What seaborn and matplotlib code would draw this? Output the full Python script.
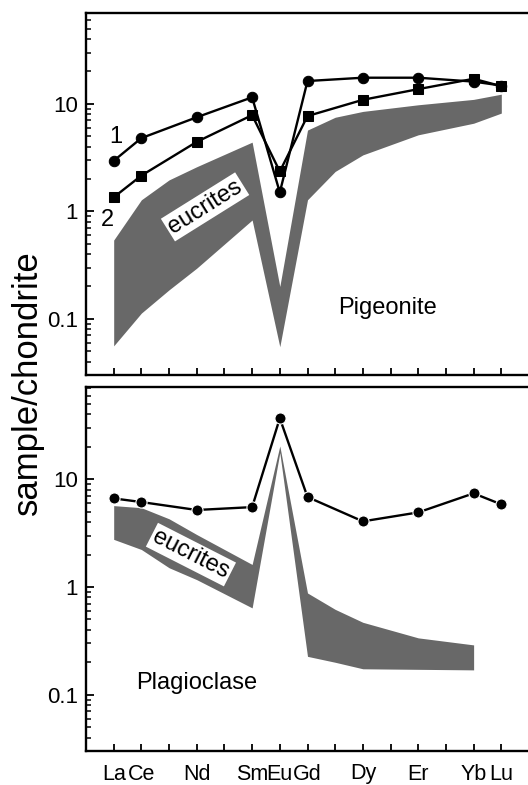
import numpy as np
import pandas as pd
import matplotlib
matplotlib.use("Agg")
import matplotlib.pyplot as plt
import seaborn as sns

# ---------------- data ----------------
ree = ["La", "Ce", "Pr", "Nd", "Pm", "Sm", "Eu", "Gd", "Tb", "Dy", "Ho", "Er", "Tm", "Yb", "Lu"]
tick_labels = ["La", "Ce", "", "Nd", "", "Sm", "Eu", "Gd", "", "Dy", "", "Er", "", "Yb", "Lu"]

sample_elements = ["La", "Ce", "Nd", "Sm", "Eu", "Gd", "Dy", "Er", "Yb", "Lu"]
pig_1 = [2.95, 4.8, 7.5, 11.5, 1.5, 16.3, 17.5, 17.5, 16.1, 14.8]
pig_2 = [1.35, 2.15, 4.43, 7.85, 2.35, 7.7, 10.9, 13.7, 17.1, 14.6]
plag = [6.65, 6.15, 5.19, 5.52, 36.9, 6.85, 4.07, 4.93, 7.41, 5.85]

pig_band_elements = ["La", "Ce", "Pr", "Nd", "Sm", "Eu", "Gd", "Tb", "Dy", "Er", "Yb", "Lu"]
pig_band_upper = [0.54, 1.28, 1.96, 2.6, 4.4, 0.2, 5.7, 7.5, 8.5, 9.8, 11.0, 12.3]
pig_band_lower = [0.056, 0.113, 0.186, 0.296, 0.83, 0.055, 1.28, 2.35, 3.35, 5.15, 6.6, 8.2]

plag_band_elements = ["La", "Ce", "Pr", "Nd", "Sm", "Eu", "Gd", "Tb", "Dy", "Er", "Yb"]
plag_band_upper = [5.7, 5.45, 4.3, 3.07, 1.62, 20.4, 0.88, 0.62, 0.47, 0.337, 0.29]
plag_band_lower = [2.77, 2.23, 1.51, 1.17, 0.64, 17.7, 0.227, 0.2, 0.174, 0.172, 0.17]

# ---------------- style ----------------
sns.set_style("ticks")
plt.rcParams["font.family"] = ["Liberation Sans", "DejaVu Sans"]
plt.rcParams["text.color"] = "black"
plt.rcParams["axes.labelcolor"] = "black"
plt.rcParams["xtick.color"] = "black"
plt.rcParams["ytick.color"] = "black"

W, H = 528, 785
fig = plt.figure(figsize=(W / 100, H / 100), dpi=100)

def pos(name):
    return ree.index(name)

band_color = "#686868"

def make_axes(top_px, bot_px):
    left_px, right_px = 86, 529
    return fig.add_axes([left_px / W, 1 - bot_px / H, (right_px - left_px) / W, (bot_px - top_px) / H])

ax1 = make_axes(13, 375)
ax2 = make_axes(387, 751)

for ax, ylim in ((ax1, (0.03, 70)), (ax2, (0.03, 72))):
    ax.set_yscale("log")
    ax.set_xlim(-1, 15)
    ax.set_ylim(*ylim)
    ax.set_xticks(range(len(ree)))
    ax.set_xticklabels(tick_labels)
    ax.set_yticks([0.1, 1, 10])
    ax.set_yticklabels(["0.1", "1", "10"])
    ax.tick_params(axis="both", which="major", direction="in", length=5, width=1.3, colors="black")
    ax.tick_params(axis="y", which="minor", direction="in", length=3.5, width=1.1, colors="black")
    ax.tick_params(axis="y", which="major", labelsize=16, pad=6, length=6)
    ax.tick_params(axis="x", which="major", labelsize=15.5, pad=9)
    ax.spines["right"].set_visible(False)
    for s in ("left", "top", "bottom"):
        ax.spines[s].set_linewidth(1.7)
        ax.spines[s].set_color("black")

ax1.tick_params(axis="x", labelbottom=False)

# ---------------- top panel: pigeonite ----------------
xb = [pos(e) for e in pig_band_elements]
ax1.fill_between(xb, pig_band_lower, pig_band_upper, color=band_color, lw=0, zorder=1)

xs = [pos(e) for e in sample_elements]
df1 = pd.DataFrame({"x": xs, "y": pig_1})
df2 = pd.DataFrame({"x": xs, "y": pig_2})
sns.lineplot(data=df1, x="x", y="y", ax=ax1, color="black", lw=1.7, marker="o",
             markersize=7.5, markeredgecolor="black", zorder=3)
sns.lineplot(data=df2, x="x", y="y", ax=ax1, color="black", lw=1.7, marker="s",
             markersize=7.5, markeredgecolor="black", zorder=3)

ax1.text(0.08, 4.93, "1", fontsize=17, ha="center", va="center", color="black")
ax1.text(-0.24, 0.83, "2", fontsize=17, ha="center", va="center", color="black")
ax1.text(9.9, 0.126, "Pigeonite", fontsize=17, ha="center", va="center", color="black")
ax1.text(3.3, 1.10, "eucrites", fontsize=17, ha="center", va="center", rotation=32, color="black",
         bbox=dict(boxstyle="square,pad=0.1", fc="white", ec="none"), zorder=4)

# ---------------- bottom panel: plagioclase ----------------
xb2 = [pos(e) for e in plag_band_elements]
ax2.fill_between(xb2, plag_band_lower, plag_band_upper, color=band_color, lw=0, zorder=1)
df3 = pd.DataFrame({"x": xs, "y": plag})
sns.lineplot(data=df3, x="x", y="y", ax=ax2, color="black", lw=1.7, marker="o",
             markersize=8, markeredgecolor="white", markeredgewidth=0.8, zorder=3)

ax2.text(3.0, 0.129, "Plagioclase", fontsize=17, ha="center", va="center", color="black")
ax2.text(2.79, 2.0, "eucrites", fontsize=17, ha="center", va="center", rotation=-27, color="black",
         bbox=dict(boxstyle="square,pad=0.1", fc="white", ec="none"), zorder=4)

for ax in (ax1, ax2):
    ax.set_xlabel("")
    ax.set_ylabel("")

fig.text(0.052, 1 - 383 / H, "sample/chondrite", rotation=90, fontsize=25,
         ha="center", va="center", color="black")

fig.savefig("out.png", dpi=100)
